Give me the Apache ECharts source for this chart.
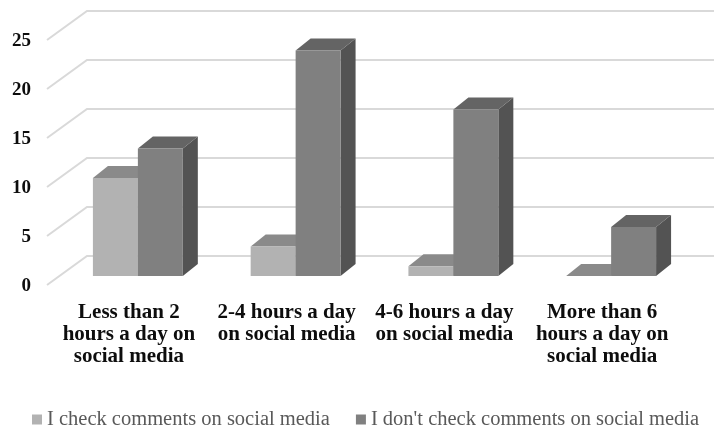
<!DOCTYPE html>
<html>
<head>
<meta charset="utf-8">
<script src="https://cdn.jsdelivr.net/npm/echarts@6/dist/echarts.min.js"></script>
<style>
  html, body { margin: 0; padding: 0; background: #ffffff; }
  #chart { width: 714px; height: 430px; }
</style>
</head>
<body>
<div id="chart"></div>
<script>
// Screen time groups and how many respondents in each check comments
const categories = [
  'Less than 2\nhours a day on\nsocial media',
  '2-4 hours a day\non social media',
  '4-6 hours a day\non social media',
  'More than 6\nhours a day on\nsocial media'
];
const seriesNames = [
  'I check comments on social media',
  "I don't check comments on social media"
];
const checkValues = [10, 3, 1, 0];
const noCheckValues = [13, 23, 17, 5];
const yTicks = [0, 5, 10, 15, 20, 25];

// Face shades for each series: front, top, side
const shades = [
  { front: '#b2b2b2', top: '#8a8a8a', side: '#727272' },
  { front: '#808080', top: '#646464', side: '#535353' }
];

const DEPTH_X = 15;   // receding offset of a box, px
const DEPTH_Y = 12;
const WALL_X = 28;    // back wall offset from the plot's left edge
const WALL_Y = 20;
const FRONT_X = -12;  // front edge of the side wall
const FRONT_Y = 9;

const FONT = '"Liberation Serif", "DejaVu Serif", serif';

function boxRenderer(slot, shade) {
  return function (params, api) {
    const cat = api.value(0);
    const val = api.value(1);
    const base = api.coord([cat, 0]);
    const top = api.coord([cat, val]);
    const band = api.size([1, 0])[0];
    const w = band * 0.285;
    const x0 = base[0] + (slot === 0 ? -w : 0);
    const x1 = x0 + w;
    const yt = top[1];
    const yb = base[1];
    const children = [
      {
        type: 'polygon',
        shape: { points: [[x1, yt], [x1, yb], [x1 + DEPTH_X, yb - DEPTH_Y], [x1 + DEPTH_X, yt - DEPTH_Y]] },
        style: { fill: shade.side }
      },
      {
        type: 'polygon',
        shape: { points: [[x0, yt], [x1, yt], [x1 + DEPTH_X, yt - DEPTH_Y], [x0 + DEPTH_X, yt - DEPTH_Y]] },
        style: { fill: shade.top }
      }
    ];
    if (yb - yt > 0.1) {
      children.push({
        type: 'rect',
        shape: { x: x0, y: yt, width: w, height: yb - yt },
        style: { fill: shade.front }
      });
    }
    return { type: 'group', children: children };
  };
}

function gridRenderer(params, api) {
  const p = api.coord([0, api.value(1)]);
  const left = params.coordSys.x;
  const y = p[1];
  return {
    type: 'polyline',
    silent: true,
    shape: { points: [[left + FRONT_X, y + FRONT_Y], [left + WALL_X, y - WALL_Y], [714, y - WALL_Y]] },
    style: { stroke: '#d9d9d9', lineWidth: 2, fill: null }
  };
}

const chart = echarts.init(document.getElementById('chart'), null, { renderer: 'canvas' });

chart.setOption({
  animation: false,
  backgroundColor: '#ffffff',
  grid: { left: 59, right: 24, top: 31, bottom: 154 },
  legend: {
    data: seriesNames,
    top: 409,
    left: 32,
    padding: 0,
    itemWidth: 10,
    itemHeight: 10,
    itemGap: 26,
    icon: 'rect',
    textStyle: { fontFamily: FONT, fontSize: 20.5, color: '#595959' }
  },
  xAxis: {
    type: 'category',
    data: categories,
    axisLine: { show: false },
    axisTick: { show: false },
    splitLine: { show: false },
    axisLabel: {
      interval: 0,
      margin: 26,
      fontFamily: FONT,
      fontWeight: 'bold',
      fontSize: 21,
      lineHeight: 22,
      color: '#0d0d0d',
      align: 'center',
      padding: [0, 18, 0, 0]
    }
  },
  yAxis: {
    type: 'value',
    min: 0,
    max: 25,
    interval: 5,
    axisLine: { show: false },
    axisTick: { show: false },
    splitLine: { show: false },
    axisLabel: {
      margin: 28,
      fontFamily: FONT,
      fontWeight: 'bold',
      fontSize: 19,
      lineHeight: 21,
      verticalAlign: 'top',
      color: '#0d0d0d'
    }
  },
  series: [
    {
      type: 'custom',
      name: 'walls',
      silent: true,
      renderItem: gridRenderer,
      data: yTicks.map(function (v) { return [0, v]; }),
      z: 1
    },
    {
      type: 'custom',
      name: seriesNames[0],
      itemStyle: { color: shades[0].front },
      renderItem: boxRenderer(0, shades[0]),
      data: checkValues.map(function (v, i) { return [i, v]; }),
      z: 2
    },
    {
      type: 'custom',
      name: seriesNames[1],
      itemStyle: { color: shades[1].front },
      renderItem: boxRenderer(1, shades[1]),
      data: noCheckValues.map(function (v, i) { return [i, v]; }),
      z: 3
    }
  ]
});
</script>
</body>
</html>
